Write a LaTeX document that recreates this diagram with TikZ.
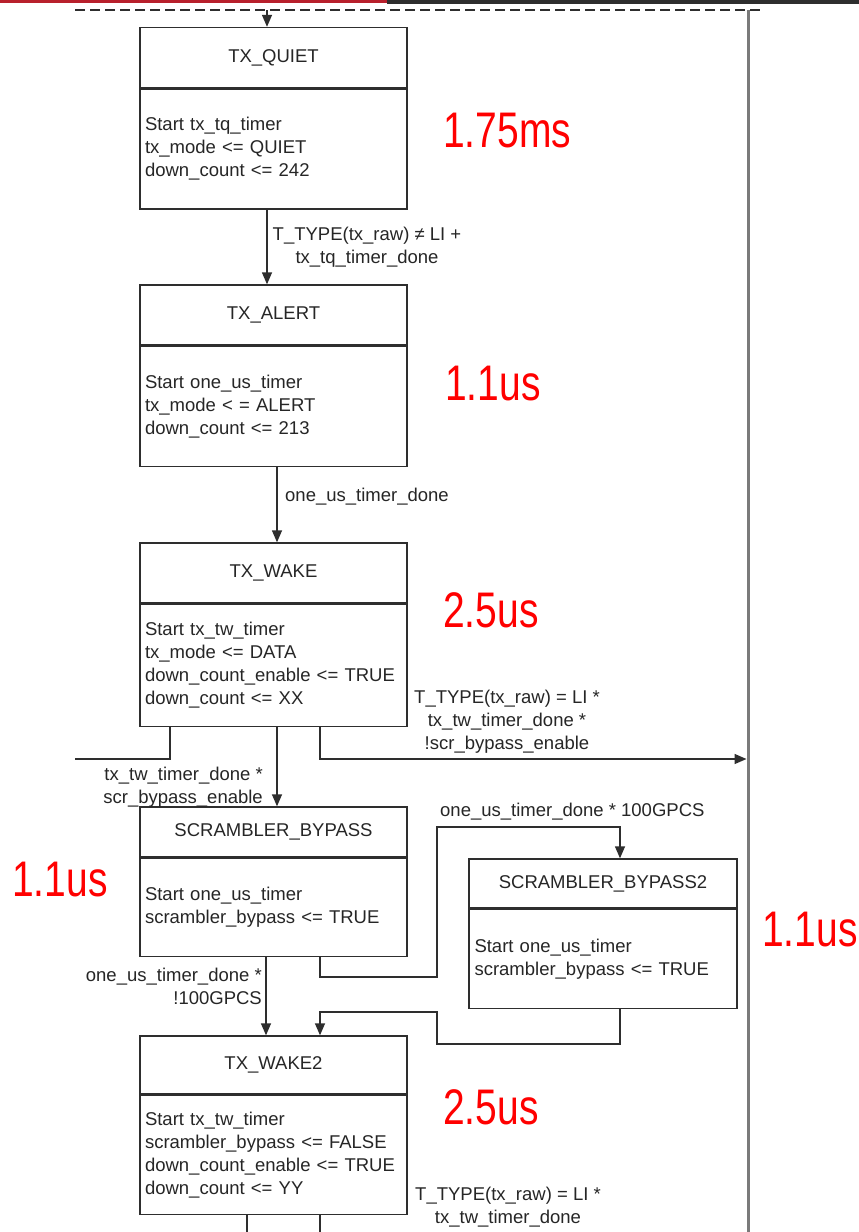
\documentclass[tikz,border=0pt]{standalone}
\usepackage{fontspec}
\usepackage{xcolor}
\usepackage{tikz}
\usetikzlibrary{arrows.meta,positioning}
\setmainfont{Liberation Sans}
\newfontfamily\durfont[FakeStretch=0.78]{Liberation Sans}
\definecolor{boxgray}{HTML}{2E2E2E}
\definecolor{railgray}{HTML}{7A7A7A}
\definecolor{hdrred}{HTML}{B8202C}
\newcommand{\fsmfont}{\fontsize{18.5}{23}\selectfont}

\begin{document}
\begin{tikzpicture}[
    x=1pt, y=-1pt,
    node distance=0pt,
    head/.style={draw=boxgray, line width=1.4pt, minimum width=267pt,
                 minimum height=60pt, inner sep=0pt, text=black!85, font=\fsmfont},
    body/.style={draw=boxgray, line width=1.4pt, minimum width=267pt,
                 minimum height=120pt, text width=257pt, inner xsep=5pt,
                 inner ysep=0pt, align=left, text=black!85, font=\fsmfont},
    lbl/.style={inner sep=0pt, text=black!85, font=\fsmfont},
    dur/.style={inner sep=0pt, anchor=west, text=red,
                font=\durfont\fontsize{50}{50}\selectfont},
    wire/.style={boxgray, line width=1.4pt},
    arrow/.style={-{Triangle[length=12pt,width=10pt]}, boxgray, line width=1.4pt}
]
\fill[white] (0,0) rectangle (859,1232);
\useasboundingbox (0,0) rectangle (859,1232);
\fill[hdrred] (0,0) rectangle (387,2.5);
\fill[boxgray] (387,0) rectangle (859,3.5);
\draw[boxgray, line width=1.7pt, dash pattern=on 10pt off 5pt] (75,10) -- (760,10);
\draw[railgray, line width=3pt] (748,10) -- (748,1232);

\node[head] (quiet) at (273.5,57.5) {TX\_QUIET};
\node[body, below=of quiet] (quietb) {Start tx\_tq\_timer\\tx\_mode <= QUIET\\down\_count <= 242};

\node[head] (alert) at (273.5,315) {TX\_ALERT};
\node[body, below=of alert] (alertb) {Start one\_us\_timer\\tx\_mode < = ALERT\\down\_count <= 213};

\node[head] (wake) at (273.5,573) {TX\_WAKE};
\node[body, below=of wake, minimum height=122pt] (wakeb) {Start tx\_tw\_timer\\tx\_mode <= DATA\\down\_count\_enable <= TRUE\\down\_count <= XX};

\node[head, minimum height=50pt] (byp) at (273.5,832) {SCRAMBLER\_BYPASS};
\node[body, below=of byp, minimum height=98pt] (bypb) {Start one\_us\_timer\\scrambler\_bypass <= TRUE};

\node[head, minimum width=268pt, minimum height=49pt] (bypt) at (603,883.5) {SCRAMBLER\_BYPASS2};
\node[body, below=of bypt, minimum width=268pt, minimum height=99pt] (byptb) {Start one\_us\_timer\\scrambler\_bypass <= TRUE};

\node[head, minimum height=58pt] (waket) at (273.5,1065) {TX\_WAKE2};
\node[body, below=of waket, minimum height=119pt] (waketb) {Start tx\_tw\_timer\\scrambler\_bypass <= FALSE\\down\_count\_enable <= TRUE\\down\_count <= YY};

\node[dur] (dquiet) at (443,131) {1.75ms};
\node[dur] (dalert) at (445,384) {1.1us};
\node[dur] (dwake) at (443,610) {2.5us};
\node[dur] (dbyp) at (12,880) {1.1us};
\node[dur] (dbypt) at (762,930) {1.1us};
\node[dur] (dwaket) at (443,1107) {2.5us};

\coordinate (topin) at (267,10);
\coordinate (leftout) at (75,759);
\coordinate (railin) at (746.5,759);
\coordinate (jogA) at (437,977);
\coordinate (jogB) at (437,827);
\coordinate (jogC) at (437,1044);
\coordinate (jogD) at (437,1012);
\coordinate (outA) at (247,1232);
\coordinate (outB) at (320,1232);

\draw[arrow] (topin) -- (topin |- quiet.north);
\draw[arrow] ([xshift=-6.5pt]quietb.south) -- ([xshift=-6.5pt]alert.north);
\draw[arrow] ([xshift=3.5pt]alertb.south) -- ([xshift=3.5pt]wake.north);
\draw[wire] ([xshift=-103.5pt]wakeb.south) |- (leftout);
\draw[arrow] ([xshift=46.5pt]wakeb.south) |- (railin);
\draw[arrow] ([xshift=3.5pt]wakeb.south) -- ([xshift=3.5pt]byp.north);
\draw[arrow] ([xshift=-7.5pt]bypb.south) -- ([xshift=-7.5pt]waket.north);
\draw[arrow] ([xshift=46.5pt]bypb.south) |- (jogA) -- (jogB) -| ([xshift=17pt]bypt.north);
\draw[arrow] ([xshift=17pt]byptb.south) |- (jogC) -- (jogD) -| ([xshift=46.5pt]waket.north);
\draw[wire] ([xshift=-26.5pt]waketb.south) -- (waketb.south -| outA) -- (outA);
\draw[wire] ([xshift=46.5pt]waketb.south) -- (outB);

\node[lbl, align=center] (lquiet) at (367,247) {T\_TYPE(tx\_raw) ≠ LI +\\tx\_tq\_timer\_done};
\node[lbl, anchor=west] (lalert) at (285,497) {one\_us\_timer\_done};
\node[lbl, align=center] (lrail) at (507,722) {T\_TYPE(tx\_raw) = LI *\\tx\_tw\_timer\_done *\\!scr\_bypass\_enable};
\node[lbl, align=right, anchor=east] (lbyp) at (263,787) {tx\_tw\_timer\_done *\\scr\_bypass\_enable};
\node[lbl, align=right, anchor=east] (lwaket) at (262,986) {one\_us\_timer\_done *\\!100GPCS};
\node[lbl, anchor=west] (lbypt) at (440,812) {one\_us\_timer\_done * 100GPCS};
\node[lbl, align=center] (lout) at (508,1207) {T\_TYPE(tx\_raw) = LI *\\tx\_tw\_timer\_done};
\end{tikzpicture}
\end{document}
